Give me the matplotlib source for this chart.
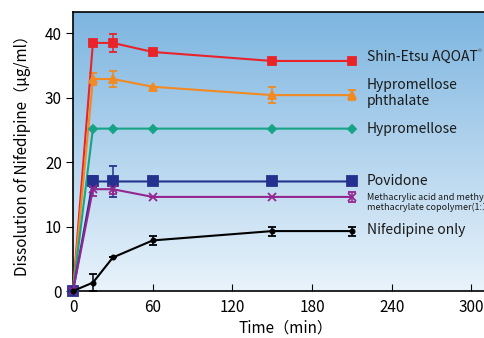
import numpy as np
import matplotlib
matplotlib.use('Agg')
import matplotlib.pyplot as plt

plt.rcParams['font.family'] = ['Noto Sans CJK JP', 'DejaVu Sans']

# dados
tempo = [0, 15, 30, 60, 150, 210]

aqoat = [0, 38.5, 38.5, 37.1, 35.7, 35.7]
aqoat_err = [0, 0, 1.35, 0, 0, 0]

hpmcp = [0, 32.9, 32.9, 31.7, 30.4, 30.4]
hpmcp_err = [0, 0.9, 1.3, 0, 1.3, 0.8]

hpmc = [0, 25.2, 25.2, 25.2, 25.2, 25.2]
hpmc_err = [0, 0, 0, 0, 0, 0]

povidona = [0, 17.0, 17.0, 17.0, 17.0, 17.0]
povidona_err = [0, 0.9, 2.4, 0, 0, 0]

metacrilico = [0, 15.8, 15.8, 14.6, 14.6, 14.6]
metacrilico_err = [0, 1.0, 0.8, 0, 0, 0.8]

nifedipina = [0, 1.3, 5.2, 7.85, 9.3, 9.3]
nifedipina_err = [0, 1.3, 0, 0.7, 0.7, 0.7]

nomes = ['Shin-Etsu AQOAT', 'Hypromellose\nphthalate', 'Hypromellose', 'Povidone',
         'Methacrylic acid and methyl\nmethacrylate copolymer(1:1)', 'Nifedipine only']

x_ticks = [0, 60, 120, 180, 240, 300]
y_ticks = [0, 10, 20, 30, 40]

series = [
    (aqoat, aqoat_err, '#e8232a', 's', 5.2),
    (hpmcp, hpmcp_err, '#f18a22', '^', 5.8),
    (hpmc, hpmc_err, '#16a386', 'D', 3.8),
    (povidona, povidona_err, '#25318e', 's', 7.5),
    (metacrilico, metacrilico_err, '#93278f', 'x', 5.5),
    (nifedipina, nifedipina_err, '#000000', 'o', 3),
]
# deslocamento vertical dos rótulos e tamanho da fonte
desloc = [0.7, 0.3, 0.0, 0.0, -0.9, 0.1]
tam_fonte = [10, 10, 10, 10, 6.5, 10]

fig = plt.figure(figsize=(4.84, 3.38), dpi=100)
ax = fig.add_axes([73 / 484, 47 / 338, 425 / 484, 279 / 338])
ax.set_xlim(0, 320)
ax.set_ylim(0, 43.3)

# fundo em degradê
grad = np.linspace(0, 1, 256).reshape(-1, 1)
cmap = matplotlib.colors.LinearSegmentedColormap.from_list('fundo', ['#7db5e0', '#e9f3fb'])
ax.imshow(grad, extent=[0, 1, 0, 1], transform=ax.transAxes, cmap=cmap,
          aspect='auto', zorder=0)

for (y, err, cor, mk, ms), nome, d, fs in zip(series, nomes, desloc, tam_fonte):
    ax.errorbar(tempo, y, yerr=err, color=cor, marker=mk, ms=ms, lw=1.5,
                mew=1.3, capsize=3, elinewidth=1.1, capthick=1.1, zorder=3,
                clip_on=False)
    ax.text(221, y[-1] + d, nome, fontsize=fs, va='center', ha='left',
            linespacing=1.15, color='#1a1a1a')

ax.text(305, aqoat[-1] + 1.3, '®', fontsize=5.5, va='center', ha='left', color='#555555')

ax.set_xticks(x_ticks)
ax.set_yticks(y_ticks)
ax.tick_params(axis='x', direction='in', length=5, labelsize=11, pad=6)
ax.tick_params(axis='y', direction='out', length=5, labelsize=11, pad=3)
for s in ax.spines.values():
    s.set_linewidth(1.2)

ax.set_xlabel('Time（min）', fontsize=11, labelpad=2)
ax.set_ylabel('Dissolution of Nifedipine（μg/ml）', fontsize=11, labelpad=10)

fig.savefig('out.png', dpi=100)
